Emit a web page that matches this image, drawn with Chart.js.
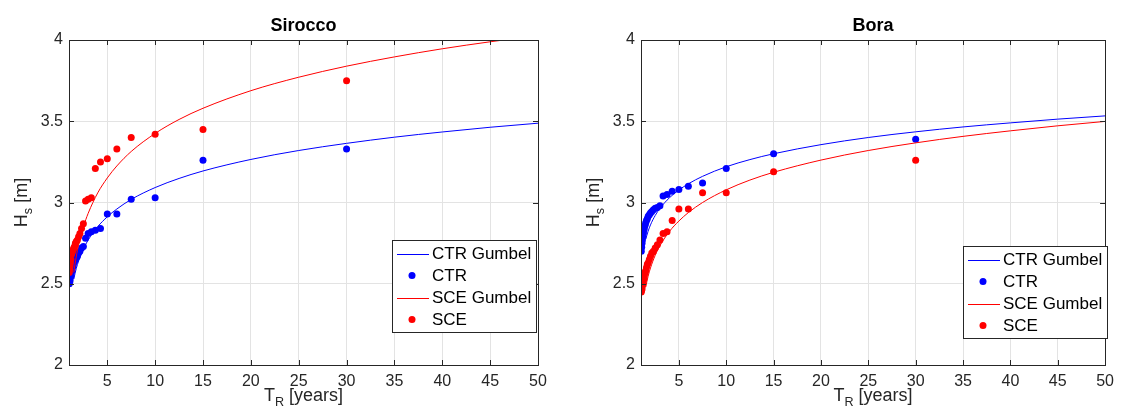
<!DOCTYPE html>
<html>
<head>
<meta charset="utf-8">
<script src="https://cdn.jsdelivr.net/npm/chart.js@4.4.1/dist/chart.umd.min.js"></script>
<style>
  body { margin: 0; background: #fff; }
  #wrap { position: relative; width: 1121px; height: 407px; }
  .panel { position: absolute; top: 0; height: 407px; }
</style>
</head>
<body>
<div id="wrap">
  <div class="panel" style="left:0;width:560px"><canvas id="sirocco" width="560" height="407"></canvas></div>
  <div class="panel" style="left:560px;width:561px"><canvas id="bora" width="561" height="407"></canvas></div>
</div>
<script>
// return periods of the ranked annual maxima
const periods = [30, 15, 10, 7.5, 6, 5, 4.29, 3.75, 3.33, 3, 2.73, 2.5, 2.31, 2.14, 2, 1.88, 1.76, 1.67, 1.58, 1.5, 1.43, 1.36, 1.3, 1.25, 1.2, 1.15, 1.11, 1.07, 1.03];

const siroccoCtr = [3.33, 3.26, 3.03, 3.02, 2.93, 2.93, 2.84, 2.83, 2.82, 2.81, 2.78, 2.73, 2.72, 2.70, 2.69, 2.67, 2.66, 2.65, 2.64, 2.63, 2.61, 2.60, 2.58, 2.57, 2.55, 2.54, 2.52, 2.51, 2.50];
const siroccoSce = [3.75, 3.45, 3.42, 3.40, 3.33, 3.27, 3.25, 3.21, 3.03, 3.02, 3.01, 2.87, 2.84, 2.81, 2.79, 2.77, 2.76, 2.75, 2.73, 2.72, 2.71, 2.70, 2.69, 2.68, 2.65, 2.63, 2.61, 2.59, 2.57];
const boraCtr = [3.39, 3.30, 3.21, 3.12, 3.10, 3.08, 3.07, 3.05, 3.04, 2.98, 2.97, 2.965, 2.955, 2.945, 2.935, 2.925, 2.915, 2.90, 2.89, 2.875, 2.86, 2.845, 2.83, 2.81, 2.79, 2.77, 2.75, 2.725, 2.70];
const boraSce = [3.26, 3.19, 3.06, 3.06, 2.96, 2.96, 2.89, 2.82, 2.81, 2.77, 2.74, 2.72, 2.70, 2.69, 2.67, 2.65, 2.63, 2.62, 2.60, 2.58, 2.57, 2.55, 2.53, 2.52, 2.50, 2.49, 2.47, 2.46, 2.45];

// fitted Gumbel curves
const gumbelT = [1.5, 1.75, 2, 2.5, 3, 4, 5, 6, 7.5, 10, 12.5, 15, 20, 25, 30, 35, 40, 45, 50];
const siroccoCtrGumbel = [2.529, 2.592, 2.640, 2.713, 2.769, 2.851, 2.912, 2.960, 3.019, 3.092, 3.148, 3.194, 3.265, 3.320, 3.364, 3.402, 3.434, 3.463, 3.488];
const siroccoSceGumbel = [2.570, 2.664, 2.738, 2.849, 2.933, 3.059, 3.151, 3.225, 3.314, 3.425, 3.511, 3.580, 3.688, 3.771, 3.839, 3.896, 3.946, 3.989, 4.028];
const boraCtrGumbel = [2.774, 2.823, 2.862, 2.920, 2.964, 3.029, 3.077, 3.115, 3.161, 3.220, 3.264, 3.300, 3.356, 3.400, 3.435, 3.465, 3.490, 3.513, 3.533];
const boraSceGumbel = [2.480, 2.546, 2.597, 2.675, 2.734, 2.822, 2.886, 2.938, 3.000, 3.078, 3.138, 3.186, 3.261, 3.320, 3.367, 3.407, 3.441, 3.472, 3.499];

const xTicks = [5, 10, 15, 20, 25, 30, 35, 40, 45, 50];
const yTicks = [2, 2.5, 3, 3.5, 4];
const legendLabels = ['CTR Gumbel', 'CTR', 'SCE Gumbel', 'SCE'];

const FONT = '"Liberation Sans", Arial, Helvetica, sans-serif';
const AXIS = '#262626';
const BLUE = '#0000ff';
const RED = '#ff0000';

function pairs(xs, ys) {
    return xs.map((x, i) => ({ x: x, y: ys[i] }));
}

// text with subscripts: parts = [[text, isSub], ...]
function partsWidth(ctx, parts, size) {
    let w = 0;
    parts.forEach(p => {
        ctx.font = (p[1] ? size * 0.7 : size) + 'px ' + FONT;
        w += ctx.measureText(p[0]).width;
    });
    return w;
}
function drawParts(ctx, parts, x, y, size) {
    let cx = x;
    parts.forEach(p => {
        ctx.font = (p[1] ? size * 0.7 : size) + 'px ' + FONT;
        ctx.fillText(p[0], cx, y + (p[1] ? size * 0.3 : 0));
        cx += ctx.measureText(p[0]).width;
    });
}

// box, inward ticks, title, axis labels and legend drawn on top
const matlabFrame = {
    id: 'matlabFrame',
    afterDraw(chart, args, opts) {
        const ctx = chart.ctx, a = chart.chartArea;
        const xs = chart.scales.x, ys = chart.scales.y;
        ctx.save();
        ctx.strokeStyle = AXIS;
        ctx.lineWidth = 1;
        ctx.beginPath();
        xTicks.forEach(v => {
            const px = Math.round(xs.getPixelForValue(v)) + 0.5;
            ctx.moveTo(px, a.bottom); ctx.lineTo(px, a.bottom - 5);
            ctx.moveTo(px, a.top); ctx.lineTo(px, a.top + 5);
        });
        yTicks.forEach(v => {
            const py = Math.round(ys.getPixelForValue(v)) + 0.5;
            ctx.moveTo(a.left, py); ctx.lineTo(a.left + 5, py);
            ctx.moveTo(a.right, py); ctx.lineTo(a.right - 5, py);
        });
        ctx.stroke();
        ctx.strokeRect(Math.round(a.left) + 0.5, Math.round(a.top) + 0.5,
            Math.round(a.right - a.left), Math.round(a.bottom - a.top));

        // title
        const cx = (a.left + a.right) / 2;
        ctx.fillStyle = '#000';
        ctx.textAlign = 'center';
        ctx.textBaseline = 'alphabetic';
        ctx.font = 'bold 18px ' + FONT;
        ctx.fillText(opts.title, cx, 31);

        // axis labels
        ctx.fillStyle = AXIS;
        ctx.textAlign = 'left';
        const xl = [['T', false], ['R', true], [' [years]', false]];
        drawParts(ctx, xl, cx - partsWidth(ctx, xl, 18) / 2, 401, 18);
        const yl = [['H', false], ['s', true], [' [m]', false]];
        ctx.save();
        ctx.translate(a.left - 42, (a.top + a.bottom) / 2);
        ctx.rotate(-Math.PI / 2);
        drawParts(ctx, yl, -partsWidth(ctx, yl, 18) / 2, 0, 18);
        ctx.restore();

        // legend
        const lx = opts.legendX, ly = opts.legendY;
        ctx.fillStyle = '#fff';
        ctx.fillRect(lx, ly, 144, 92);
        ctx.strokeStyle = AXIS;
        ctx.strokeRect(lx + 0.5, ly + 0.5, 144, 92);
        ctx.font = '17px ' + FONT;
        ctx.textBaseline = 'middle';
        chart.data.datasets.forEach((ds, i) => {
            const ry = ly + 13.5 + i * 22;
            if (ds.showLine) {
                ctx.strokeStyle = ds.borderColor;
                ctx.beginPath();
                ctx.moveTo(lx + 5, Math.round(ry) + 0.5);
                ctx.lineTo(lx + 37, Math.round(ry) + 0.5);
                ctx.stroke();
            } else {
                ctx.fillStyle = ds.backgroundColor;
                ctx.beginPath();
                ctx.arc(lx + 20, ry, 3.5, 0, Math.PI * 2);
                ctx.fill();
            }
            ctx.fillStyle = '#000';
            ctx.fillText(ds.label, lx + 40, ry + 1);
        });
        ctx.restore();
    }
};

function makeChart(id, ctr, sce, ctrFit, sceFit, title, yWidth, padRight, legendX, legendY) {
    const curve = (label, data, color, order) => ({
        label: label, data: pairs(gumbelT, data), showLine: true, pointRadius: 0,
        borderColor: color, backgroundColor: color, borderWidth: 1,
        cubicInterpolationMode: 'monotone', order: order
    });
    const dots = (label, data, color, order) => ({
        label: label, data: pairs(periods, data), showLine: false, pointRadius: 3.5,
        pointBorderWidth: 0, backgroundColor: color, borderColor: color, order: order
    });
    return new Chart(document.getElementById(id), {
        type: 'scatter',
        data: {
            datasets: [
                curve(legendLabels[0], ctrFit, BLUE, 4),
                dots(legendLabels[1], ctr, BLUE, 3),
                curve(legendLabels[2], sceFit, RED, 2),
                dots(legendLabels[3], sce, RED, 1)
            ]
        },
        options: {
            responsive: false,
            animation: false,
            devicePixelRatio: 1,
            layout: { padding: { top: 40, right: padRight, left: 0, bottom: 0 } },
            plugins: {
                legend: { display: false },
                tooltip: { enabled: false },
                title: { display: false },
                matlabFrame: { title: title, legendX: legendX, legendY: legendY }
            },
            scales: {
                x: {
                    type: 'linear', min: 1, max: 50,
                    afterBuildTicks: s => { s.ticks = xTicks.map(v => ({ value: v })); },
                    afterFit: s => { s.height = 42; },
                    grid: { color: '#e3e3e3', drawTicks: false },
                    border: { display: false },
                    ticks: { color: AXIS, font: { size: 16, family: FONT }, padding: 7, maxRotation: 0, autoSkip: false,
                        callback: v => String(v) }
                },
                y: {
                    type: 'linear', min: 2, max: 4,
                    afterBuildTicks: s => { s.ticks = yTicks.map(v => ({ value: v })); },
                    afterFit: s => { s.width = yWidth; },
                    grid: { color: '#e3e3e3', drawTicks: false },
                    border: { display: false },
                    ticks: { color: AXIS, font: { size: 16, family: FONT }, padding: 6,
                        callback: v => String(v) }
                }
            }
        },
        plugins: [matlabFrame]
    });
}

makeChart('sirocco', siroccoCtr, siroccoSce, siroccoCtrGumbel, siroccoSceGumbel, 'Sirocco', 69, 22, 392, 240);
makeChart('bora', boraCtr, boraSce, boraCtrGumbel, boraSceGumbel, 'Bora', 81, 11, 403, 246);
</script>
</body>
</html>
